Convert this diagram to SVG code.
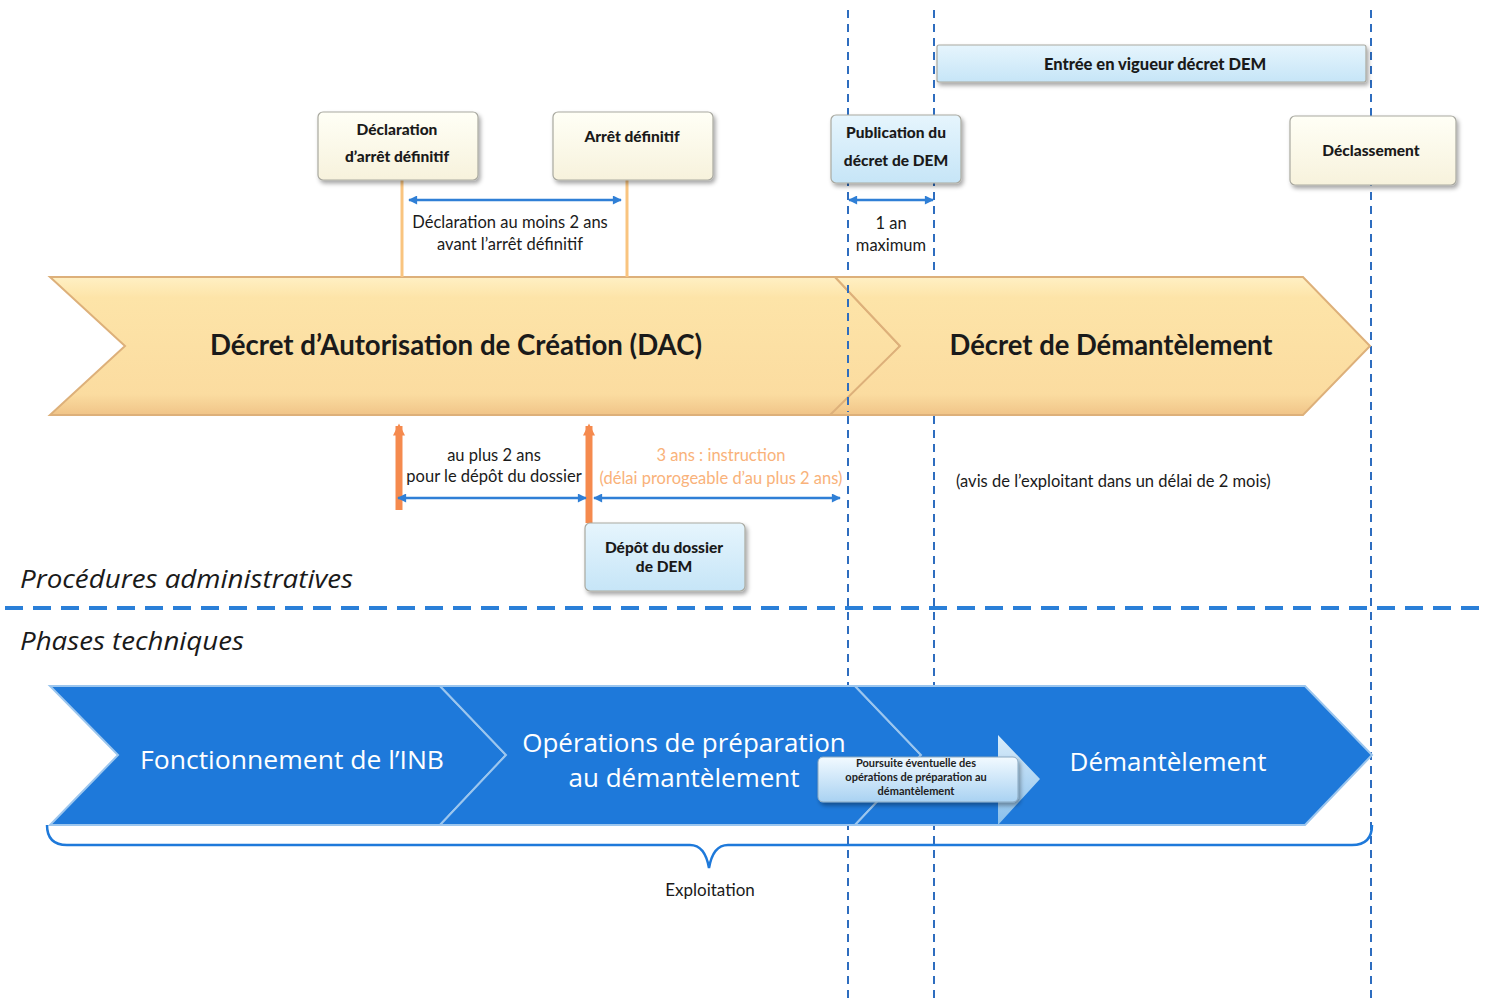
<svg xmlns="http://www.w3.org/2000/svg" width="1485" height="999" viewBox="0 0 1485 999">
<style>
.vdash{stroke:#2E6DBF;stroke-width:2;stroke-dasharray:8 6;fill:none}
.box{stroke:#A9A9A0;stroke-width:1.2}
.cream{fill:url(#gCream)}
.lblue{fill:url(#gBlue)}
.blab{font-family:Lato,'Open Sans',sans-serif;font-weight:900;font-size:15.5px;fill:#1a1a1a;text-anchor:middle}
.note{font-family:Lato,'Open Sans',sans-serif;font-size:16.5px;fill:#1a1a1a;text-anchor:middle}
.big{font-family:Lato,'Open Sans',sans-serif;font-weight:bold;font-size:28px;fill:#1a1a1a;text-anchor:middle}
.wbig{font-family:'Open Sans',Lato,sans-serif;font-size:26px;fill:#fff;text-anchor:middle}
.ital{font-family:'Open Sans',Lato,sans-serif;font-style:italic;font-size:26px;fill:#1a1a1a}
.darr{stroke:#2F7FD6;stroke-width:2.5;fill:none;marker-start:url(#ah);marker-end:url(#ah)}
.ylw{fill:url(#gYel);stroke:#DDB07A;stroke-width:2}
.blu{fill:#1E79DA;stroke:#9CC6EE;stroke-width:2}
</style>
<defs>
<linearGradient id="gCream" x1="0" y1="0" x2="0" y2="1"><stop offset="0" stop-color="#FFFFF6"/><stop offset="1" stop-color="#F7F2DC"/></linearGradient>
<linearGradient id="gBlue" x1="0" y1="0" x2="0" y2="1"><stop offset="0" stop-color="#E6F5FD"/><stop offset="1" stop-color="#C6E5F7"/></linearGradient>
<linearGradient id="gYel" x1="0" y1="0" x2="0" y2="1"><stop offset="0" stop-color="#FFF0C4"/><stop offset="0.15" stop-color="#FDE4A8"/><stop offset="0.85" stop-color="#FBDCA0"/><stop offset="1" stop-color="#F0C488"/></linearGradient>
<linearGradient id="gArr" x1="0" y1="0" x2="0" y2="1"><stop offset="0" stop-color="#E4F3FC"/><stop offset="1" stop-color="#8EC3EC"/></linearGradient>
<linearGradient id="gPb" x1="0" y1="0" x2="0" y2="1"><stop offset="0" stop-color="#F2FAFF"/><stop offset="1" stop-color="#A9D2F2"/></linearGradient>
<filter id="sh" x="-10%" y="-10%" width="130%" height="140%"><feDropShadow dx="2" dy="3" stdDeviation="2" flood-color="#000" flood-opacity="0.35"/></filter>
<marker id="ah" viewBox="0 0 10 10" refX="9" refY="5" markerWidth="10" markerHeight="9" markerUnits="userSpaceOnUse" orient="auto-start-reverse"><path d="M0,0 L10,5 L0,10 z" fill="#2F7FD6"/></marker>
<marker id="oh" viewBox="0 0 10 10" refX="8" refY="5" markerWidth="13" markerHeight="12" markerUnits="userSpaceOnUse" orient="auto"><path d="M0,0 L10,5 L0,10 z" fill="#F58A4E"/></marker>
</defs>
<rect width="1485" height="999" fill="#fff"/>

<g id="guides">
<line class="vdash" x1="848" y1="10" x2="848" y2="999"/>
<line class="vdash" x1="934" y1="10" x2="934" y2="999"/>
<line class="vdash" x1="1371" y1="10" x2="1371" y2="999"/>
<line x1="5" y1="608" x2="1480" y2="608" stroke="#2A7FD8" stroke-width="4" stroke-dasharray="18 10"/>
</g>

<g id="dac">
<path class="ylw" d="M50,277 L835,277 L900,346 L835,415 L50,415 L125,346 Z"/>
<text class="big" x="456" y="355" textLength="492" lengthAdjust="spacingAndGlyphs">Décret d’Autorisation de Création  (DAC)</text>
</g>
<g id="dem">
<path class="ylw" d="M835,277 L1303,277 L1370,346 L1303,415 L830,415 L900,346 Z"/>
<text class="big" x="1111" y="355" textLength="323" lengthAdjust="spacingAndGlyphs">Décret de Démantèlement</text>
</g>
<line class="vdash" x1="848" y1="285" x2="848" y2="412"/>

<g id="connectors">
<line x1="402" y1="180" x2="402" y2="277" stroke="#F9C47F" stroke-width="3"/>
<line x1="627" y1="180" x2="627" y2="277" stroke="#F9C47F" stroke-width="3"/>
<line x1="399" y1="510" x2="399" y2="426" stroke="#F58A4E" stroke-width="7" marker-end="url(#oh)"/>
<line x1="589" y1="523" x2="589" y2="426" stroke="#F58A4E" stroke-width="7" marker-end="url(#oh)"/>
<line class="darr" x1="409" y1="200" x2="621" y2="200"/>
<line class="darr" x1="849" y1="200" x2="933" y2="200"/>
<line class="darr" x1="398" y1="498" x2="586" y2="498"/>
<line class="darr" x1="594" y1="498" x2="840" y2="498"/>
</g>

<g id="n-declaration">
<rect class="box cream" x="318" y="112" width="160" height="68" rx="5" filter="url(#sh)"/>
<text class="blab" x="397" y="135">Déclaration</text>
<text class="blab" x="397" y="162">d’arrêt définitif</text>
</g>
<g id="n-arret">
<rect class="box cream" x="553" y="112" width="160" height="68" rx="5" filter="url(#sh)"/>
<text class="blab" x="632" y="142">Arrêt définitif</text>
</g>
<g id="n-publication">
<rect class="box lblue" x="831" y="115" width="130" height="68" rx="5" filter="url(#sh)"/>
<text class="blab" x="896" y="138">Publication du</text>
<text class="blab" x="896" y="166">décret de DEM</text>
</g>
<g id="n-entree">
<rect class="box lblue" x="937" y="45" width="429" height="37" rx="2" filter="url(#sh)"/>
<text class="blab" x="1155" y="70" style="font-size:16.5px">Entrée en vigueur décret DEM</text>
</g>
<g id="n-declassement">
<rect class="box cream" x="1290" y="116" width="166" height="69" rx="5" filter="url(#sh)"/>
<text class="blab" x="1371" y="156">Déclassement</text>
</g>
<g id="n-depot">
<rect class="box lblue" x="585" y="523" width="160" height="68" rx="5" filter="url(#sh)"/>
<text class="blab" x="664" y="553">Dépôt du dossier</text>
<text class="blab" x="664" y="572">de DEM</text>
</g>

<g id="labels">
<text class="note" x="510" y="228">Déclaration au moins  2 ans</text>
<text class="note" x="510" y="250">avant l’arrêt définitif</text>
<text class="note" x="891" y="229">1 an</text>
<text class="note" x="891" y="251">maximum</text>
<text class="note" x="494" y="461">au plus  2 ans</text>
<text class="note" x="494" y="482">pour le dépôt du dossier</text>
<text class="note" x="721" y="461" style="fill:#F9B27A">3 ans : instruction</text>
<text class="note" x="721" y="484" style="fill:#F9B27A">(délai prorogeable d’au plus 2 ans)</text>
<text class="note" x="956" y="487" style="text-anchor:start">(avis de l’exploitant dans un délai  de 2 mois)</text>
<text class="ital" x="20" y="588" textLength="333" lengthAdjust="spacingAndGlyphs">Procédures administratives</text>
<text class="ital" x="20" y="650" textLength="224" lengthAdjust="spacingAndGlyphs">Phases techniques</text>
</g>

<g id="fonctionnement">
<path class="blu" d="M50,686 L440,686 L506,755 L440,825 L50,825 L118,755 Z"/>
<text class="wbig" x="292" y="769" textLength="304" lengthAdjust="spacingAndGlyphs">Fonctionnement de l’INB</text>
</g>
<g id="operations">
<path class="blu" d="M440,686 L855,686 L921,755 L855,825 L440,825 L506,755 Z"/>
<text class="wbig" x="684" y="752">Opérations de préparation</text>
<text class="wbig" x="684" y="787">au démantèlement</text>
</g>
<g id="demantelement">
<path class="blu" d="M855,686 L1305,686 L1372,755 L1305,825 L855,825 L921,755 Z"/>
<text class="wbig" x="1168" y="771">Démantèlement</text>
</g>

<g id="poursuite">
<path d="M820,757 L998,757 L998,735 L1040,779 L998,825 L998,802 L820,802 Z" fill="url(#gArr)" opacity="0.95"/>
<rect x="818" y="757" width="200" height="45" rx="5" fill="url(#gPb)" stroke="#8AA8C0" stroke-width="1" filter="url(#sh)"/>
<text x="916" y="767" font-family="Lato,sans-serif" font-size="11" font-weight="bold" fill="#222" text-anchor="middle">Poursuite éventuelle des</text>
<text x="916" y="781" font-family="Lato,sans-serif" font-size="11" font-weight="bold" fill="#222" text-anchor="middle">opérations de préparation au</text>
<text x="916" y="795" font-family="Lato,sans-serif" font-size="11" font-weight="bold" fill="#222" text-anchor="middle">démantèlement</text>
</g>

<g id="exploitation">
<path d="M47,825 Q47,845 67,845 L690,845 Q705,845 709,868 Q713,845 728,845 L1352,845 Q1372,845 1372,825" fill="none" stroke="#1E79DA" stroke-width="2.5"/>
<text x="710" y="896" font-family="Lato,sans-serif" font-size="17" fill="#1a1a1a" text-anchor="middle">Exploitation</text>
</g>
</svg>
